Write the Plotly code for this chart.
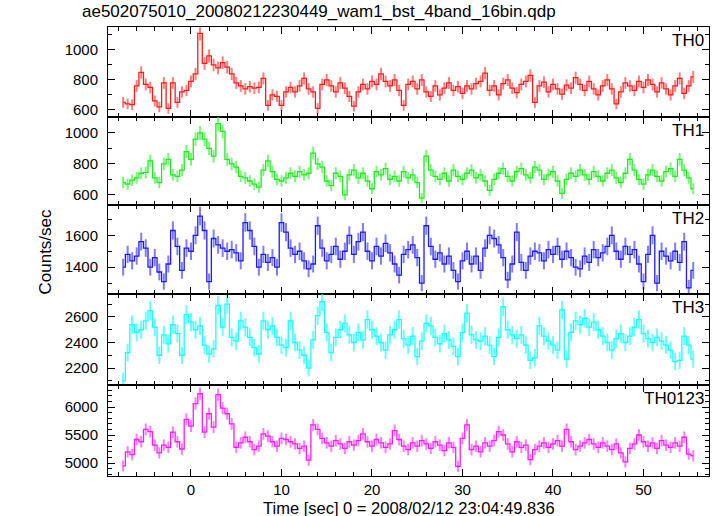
import numpy as np
import plotly.graph_objects as go

# ---------------- data ----------------
BIN = 0.5          # seconds per bin (16 x 1/32 s)
T_START = -7.5     # centre of first bin
N_BINS = 127
time_s = [T_START + BIN * i for i in range(N_BINS)]

th0 = [650, 640, 635, 760, 850, 770, 750, 660, 620, 780,
       610, 780, 650, 720, 730, 790, 840, 1110, 910, 960,
       900, 880, 915, 885, 840, 780, 760, 740, 755, 745,
       750, 810, 630, 700, 690, 630, 720, 750, 720, 760,
       810, 740, 720, 610, 770, 800, 760, 720, 780, 745,
       690, 625, 720, 770, 740, 790, 770, 840, 790, 760,
       800, 730, 630, 770, 790, 740, 800, 720, 690, 760,
       700, 745, 780, 730, 755, 710, 760, 740, 775, 790,
       845, 730, 760, 700, 775, 800, 745, 715, 770, 790,
       830, 650, 760, 785, 720, 770, 740, 705, 765, 745,
       815, 770, 730, 790, 740, 700, 760, 800, 740, 640,
       720, 780, 760, 730, 790, 750, 800, 770, 720, 780,
       740, 700, 760, 810, 710, 760, 820]

th1 = [680, 670, 695, 710, 740, 745, 820, 710, 680, 800,
       830, 730, 720, 760, 880, 830, 960, 1000, 960, 900,
       850, 1060, 1010, 830, 800, 780, 720, 710, 690, 670,
       650, 760, 820, 750, 700, 690, 710, 740, 720, 750,
       730, 740, 870, 800, 780, 690, 660, 740, 720, 600,
       730, 760, 710, 740, 690, 640, 750, 730, 770, 700,
       720, 690, 750, 710, 730, 680, 580, 850, 760, 720,
       700, 740, 690, 760, 720, 700, 740, 760, 710, 730,
       690, 630, 700, 740, 770, 720, 690, 750, 770, 730,
       710, 780, 760, 700, 730, 750, 690, 610, 700, 740,
       720, 760, 730, 700, 750, 720, 690, 740, 760, 710,
       680, 740, 830, 760, 700, 670, 730, 760, 720, 690,
       750, 770, 720, 830, 760, 710, 640]

th2 = [1400, 1480, 1440, 1470, 1560, 1520, 1400, 1460, 1370, 1310,
       1420, 1630, 1530, 1380, 1520, 1500, 1600, 1720, 1630, 1310,
       1580, 1540, 1520, 1500, 1510, 1490, 1440, 1680, 1630, 1530,
       1400, 1480, 1430, 1460, 1400, 1680, 1620, 1520, 1480, 1500,
       1440, 1390, 1420, 1660, 1520, 1440, 1480, 1530, 1450, 1500,
       1600, 1480, 1560, 1620, 1500, 1440, 1530, 1470, 1550, 1490,
       1420, 1350, 1480, 1510, 1540, 1460, 1300, 1660, 1530, 1450,
       1490, 1420, 1470, 1380, 1310, 1440, 1500, 1420, 1470, 1380,
       1520, 1600, 1580, 1540, 1460, 1320, 1420, 1620, 1430, 1380,
       1470, 1500, 1490, 1440, 1510, 1480, 1530, 1450, 1500, 1460,
       1400, 1390, 1470, 1430, 1510, 1460, 1490, 1530, 1600, 1500,
       1450, 1530, 1480, 1510, 1420, 1310, 1480, 1600, 1300, 1500,
       1470, 1440, 1500, 1430, 1560, 1270, 1380]

th3 = [2100, 2320, 2540, 2480, 2500, 2570, 2650, 2520, 2300, 2460,
       2390, 2540, 2470, 2300, 2620, 2560, 2500, 2530, 2380, 2310,
       2350, 2690, 2520, 2700, 2440, 2410, 2570, 2520, 2440, 2360,
       2310, 2570, 2500, 2530, 2440, 2380, 2360, 2570, 2400, 2340,
       2300, 2200, 2420, 2610, 2720, 2480, 2320, 2440, 2500, 2550,
       2460, 2400, 2480, 2420, 2580, 2500, 2450, 2400, 2340, 2460,
       2500, 2580, 2430, 2380, 2450, 2290, 2410, 2550, 2530, 2440,
       2390, 2470, 2420, 2370, 2290, 2480, 2630, 2460, 2420, 2410,
       2450, 2380, 2290, 2440, 2680, 2500, 2460, 2430, 2460, 2380,
       2260, 2280, 2530, 2450, 2410, 2380, 2340, 2655, 2270, 2480,
       2570, 2540, 2590, 2520, 2560, 2500, 2450, 2400, 2340, 2430,
       2470, 2400, 2450, 2520, 2580, 2470, 2430, 2400, 2440, 2410,
       2380, 2340, 2250, 2260, 2450, 2380, 2270]

th0123 = [4950, 5200, 5150, 5420, 5380, 5600, 5560, 5320, 5180, 5320,
          5280, 5550, 5380, 5250, 5780, 5660, 6060, 6240, 5550, 5880,
          5640, 6220, 5980, 5880, 5700, 5280, 5360, 5460, 5380, 5240,
          5300, 5520, 5480, 5380, 5300, 5440, 5420, 5380, 5340, 5260,
          5300, 5050, 5680, 5600, 5440, 5360, 5300, 5400, 5340, 5260,
          5380, 5320, 5400, 5520, 5380, 5300, 5420, 5360, 5280, 5340,
          5580, 5420, 5300, 5240, 5360, 5300, 5400, 5340, 5260, 5380,
          5320, 5220, 5360, 5280, 4940, 5440, 5680, 5240, 5300, 5200,
          5360, 5300, 5400, 5560, 5500, 5340, 5200, 5380, 5280, 5320,
          5060, 5240, 5300, 5360, 5280, 5340, 5400, 5300, 5600, 5380,
          5240, 5300, 5360, 5420, 5340, 5280, 5360, 5300, 5240, 5340,
          5180, 5020, 5260, 5340, 5500, 5380, 5300, 5360, 5260, 5400,
          5320, 5280, 5360, 5300, 5460, 5160, 5130]

panel_names = ["TH0", "TH1", "TH2", "TH3", "TH0123"]
panel_values = [th0, th1, th2, th3, th0123]
panel_colors = ["#ff1a1a", "#1aee1a", "#1a1aff", "#1affff", "#ff1aff"]
errbar_colors = ["rgba(255,40,40,0.6)", "rgba(40,235,40,0.6)",
                 "rgba(40,40,255,0.6)", "rgba(40,255,255,0.7)",
                 "rgba(255,40,255,0.6)"]
y_ranges = [[553, 1153], [535, 1103], [1232, 1790], [2067, 2780], [4768, 6393]]
y_major_step = [200, 200, 200, 200, 500]
y_minor_step = [100, 100, 100, 100, 100]
x_range = [-9.17, 57.24]

# panel pixel edges (top of plot = 27, bottom = 476)
edges_px = [27, 117, 205, 294, 385, 476]
TOP, BOT = 27, 476
H = BOT - TOP

FONT = "Liberation Sans, Arial, Helvetica, sans-serif"

fig = go.Figure()
layout = dict(
    width=717, height=516,
    margin=dict(l=108, r=8, t=TOP, b=516 - BOT, autoexpand=False),
    paper_bgcolor="white", plot_bgcolor="white",
    showlegend=False,
    font=dict(family=FONT, size=15, color="black"),
)
annotations = []

for k in range(5):
    sfx = "" if k == 0 else str(k + 1)
    vals = np.array(panel_values[k], dtype=float)
    err = np.sqrt(vals / BIN)
    fig.add_trace(go.Scatter(
        x=time_s, y=vals, mode="lines",
        line=dict(color=panel_colors[k], width=1.3, shape="hvh"),
        error_y=dict(type="data", array=err, color=errbar_colors[k],
                     thickness=2, width=0),
        xaxis="x" + sfx, yaxis="y" + sfx, hoverinfo="skip",
    ))
    d0 = (BOT - edges_px[k + 1]) / H
    d1 = (BOT - edges_px[k]) / H
    layout["xaxis" + sfx] = dict(
        domain=[0, 1], anchor="y" + sfx, range=x_range,
        tickmode="linear", tick0=0, dtick=10,
        ticks="inside", ticklen=7, tickwidth=1, tickcolor="black",
        minor=dict(tickmode="linear", tick0=0, dtick=2, ticks="inside",
                   ticklen=4, tickcolor="black", tickwidth=1),
        showticklabels=(k == 4), showline=True, linecolor="black",
        linewidth=1, mirror="ticks", showgrid=False, zeroline=False,
        tickfont=dict(size=15),
    )
    layout["yaxis" + sfx] = dict(
        domain=[d0, d1], anchor="x" + sfx, range=y_ranges[k],
        tickmode="linear", tick0=0, dtick=y_major_step[k],
        ticks="inside", ticklen=7, tickwidth=1, tickcolor="black",
        minor=dict(tickmode="linear", tick0=0, dtick=y_minor_step[k],
                   ticks="inside", ticklen=4, tickcolor="black",
                   tickwidth=1),
        showline=True, linecolor="black", linewidth=1, mirror="ticks",
        showgrid=False, zeroline=False, tickfont=dict(size=15),
        ticklabelstandoff=6,
    )
    annotations.append(dict(
        text=panel_names[k], xref="paper", yref="paper", x=1, y=d1,
        xanchor="right", yanchor="top", xshift=-3, yshift=-2,
        showarrow=False, font=dict(size=17, family=FONT),
    ))

annotations.append(dict(
    text="ae502075010_20080212230449_wam1_bst_4band_16bin.qdp",
    xref="paper", yref="paper", x=(80 - 108) / 601, y=1 + 15 / H,
    xanchor="left", yanchor="middle", showarrow=False,
    font=dict(size=17, family=FONT)))
annotations.append(dict(
    text="Counts/sec", xref="paper", yref="paper",
    x=(45 - 108) / 601, y=0.5, textangle=-90,
    xanchor="center", yanchor="middle", showarrow=False,
    font=dict(size=17, family=FONT)))
annotations.append(dict(
    text="Time [sec] 0 = 2008/02/12 23:04:49.836", xref="paper",
    yref="paper", x=0.5, y=-(508 - BOT) / H, xanchor="center",
    yanchor="middle", showarrow=False, font=dict(size=16.5, family=FONT)))

layout["annotations"] = annotations
fig.update_layout(**layout)
fig.write_html("out.html",
               config={"displayModeBar": False},
               post_script="document.body.style.margin='0';"
                           "document.body.style.padding='0';")
